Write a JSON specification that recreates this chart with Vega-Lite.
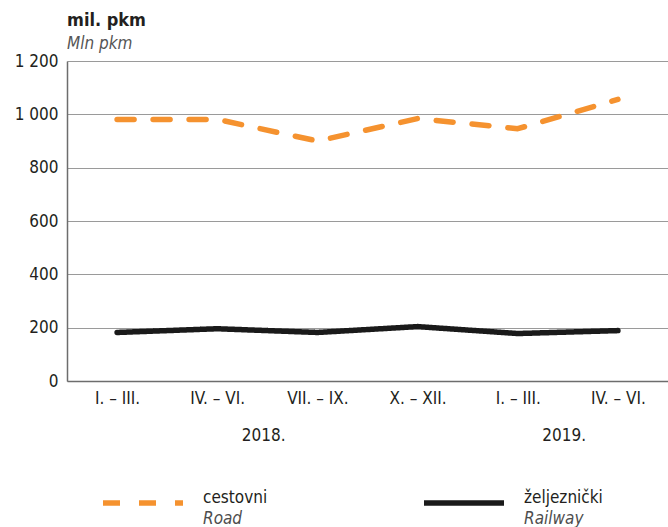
{
  "$schema": "https://vega.github.io/schema/vega-lite/v6.json",
  "width": 601,
  "height": 320,
  "autosize": {"type": "none"},
  "padding": {"left": 67, "top": 61, "right": 0, "bottom": 146},
  "background": "#ffffff",
  "config": {
    "font": "DejaVu Sans Condensed, Roboto, Liberation Sans",
    "view": {"stroke": null}
  },
  "title": {
    "text": "mil. pkm",
    "subtitle": "Mln pkm",
    "anchor": "start",
    "frame": "group",
    "offset": 0,
    "fontSize": 18,
    "fontWeight": "bold",
    "color": "#231f20",
    "subtitleFontSize": 17,
    "subtitleFontStyle": "italic",
    "subtitleColor": "#555555",
    "subtitlePadding": 6
  },
  "data": {
    "values": [
      {"key": "2018. I. – III.", "mode": "cestovni", "en": "Road", "value": 981},
      {"key": "2018. IV. – VI.", "mode": "cestovni", "en": "Road", "value": 981},
      {"key": "2018. VII. – IX.", "mode": "cestovni", "en": "Road", "value": 900},
      {"key": "2018. X. – XII.", "mode": "cestovni", "en": "Road", "value": 984},
      {"key": "2019. I. – III.", "mode": "cestovni", "en": "Road", "value": 946},
      {"key": "2019. IV. – VI.", "mode": "cestovni", "en": "Road", "value": 1056},
      {"key": "2018. I. – III.", "mode": "željeznički", "en": "Railway", "value": 182},
      {"key": "2018. IV. – VI.", "mode": "željeznički", "en": "Railway", "value": 196},
      {"key": "2018. VII. – IX.", "mode": "željeznički", "en": "Railway", "value": 182},
      {"key": "2018. X. – XII.", "mode": "željeznički", "en": "Railway", "value": 204},
      {"key": "2019. I. – III.", "mode": "željeznički", "en": "Railway", "value": 178},
      {"key": "2019. IV. – VI.", "mode": "željeznički", "en": "Railway", "value": 189}
    ]
  },
  "resolve": {"axis": {"x": "independent"}},
  "layer": [
    {
      "mark": {"type": "line", "strokeWidth": 5.5, "strokeCap": "round", "strokeJoin": "round"},
      "encoding": {
        "x": {
          "field": "key", "type": "ordinal", "sort": null,
          "scale": {"type": "point", "padding": 0.5},
          "axis": {
            "orient": "bottom",
            "title": null, "labelAngle": 0, "ticks": false,
            "domainColor": "#6d6d6d", "domainWidth": 1.5,
            "labelExpr": "substring(datum.label, 6)",
            "labelFontSize": 17, "labelColor": "#231f20", "labelPadding": 9, "grid": false
          }
        },
        "y": {
          "field": "value", "type": "quantitative",
          "scale": {"domain": [0, 1200]},
          "axis": {
            "title": null, "values": [0, 200, 400, 600, 800, 1000, 1200],
            "labelExpr": "replace(format(datum.value, ','), ',', ' ')",
            "ticks": false, "labelPadding": 9, "labelFontSize": 17, "labelColor": "#231f20",
            "domainColor": "#6d6d6d", "domainWidth": 1.5,
            "grid": true, "gridColor": "#9a9a9a", "gridWidth": 1
          }
        },
        "color": {
          "field": "mode", "type": "nominal",
          "scale": {"domain": ["cestovni", "željeznički"], "range": ["#f5922f", "#1a1a1a"]},
          "legend": {
            "orient": "none", "legendX": 33, "legendY": 399, "direction": "horizontal",
            "columns": 2, "columnPadding": 145, "title": null, "padding": 0,
            "symbolType": "stroke", "symbolSize": 6400, "symbolStrokeWidth": 5.5,
            "labelFontSize": 17, "labelOffset": 17, "labelColor": "#231f20", "labelBaseline": "alphabetic"
          }
        },
        "strokeDash": {
          "field": "mode", "type": "nominal",
          "scale": {"domain": ["cestovni", "željeznički"], "range": [[17, 19], [1, 0]]},
          "legend": {
            "orient": "none", "legendX": 33, "legendY": 399, "direction": "horizontal",
            "columns": 2, "columnPadding": 145, "title": null, "padding": 0,
            "symbolType": "stroke", "symbolSize": 6400, "symbolStrokeWidth": 5.5,
            "labelFontSize": 17, "labelOffset": 17, "labelColor": "#231f20", "labelBaseline": "alphabetic"
          }
        },
        "opacity": {
          "field": "en", "type": "nominal",
          "scale": {"domain": ["Road", "Railway"], "range": [1, 1]},
          "legend": {
            "orient": "none", "legendX": 33, "legendY": 420, "direction": "horizontal",
            "columns": 2, "columnPadding": 170, "title": null, "padding": 0,
            "symbolType": "stroke", "symbolSize": 6400, "symbolStrokeWidth": 5.5,
            "symbolStrokeColor": "transparent",
            "labelFontSize": 17, "labelOffset": 17, "labelColor": "#4d4d4d", "labelFontStyle": "italic",
            "labelBaseline": "alphabetic"
          }
        }
      }
    },
    {
      "mark": {"type": "point", "opacity": 0},
      "encoding": {
        "x": {
          "field": "key", "type": "ordinal", "sort": null,
          "axis": {
            "orient": "bottom",
            "title": null, "labelAngle": 0, "ticks": false, "domain": false, "grid": false,
            "labelExpr": "datum.value === '2018. IV. – VI.' ? '2018.' : (datum.value === '2019. I. – III.' ? '2019.' : '')",
            "labelOffset": 46, "labelPadding": 46, "labelFontSize": 17, "labelColor": "#231f20"
          }
        },
        "y": {"field": "value", "type": "quantitative"}
      }
    }
  ]
}
